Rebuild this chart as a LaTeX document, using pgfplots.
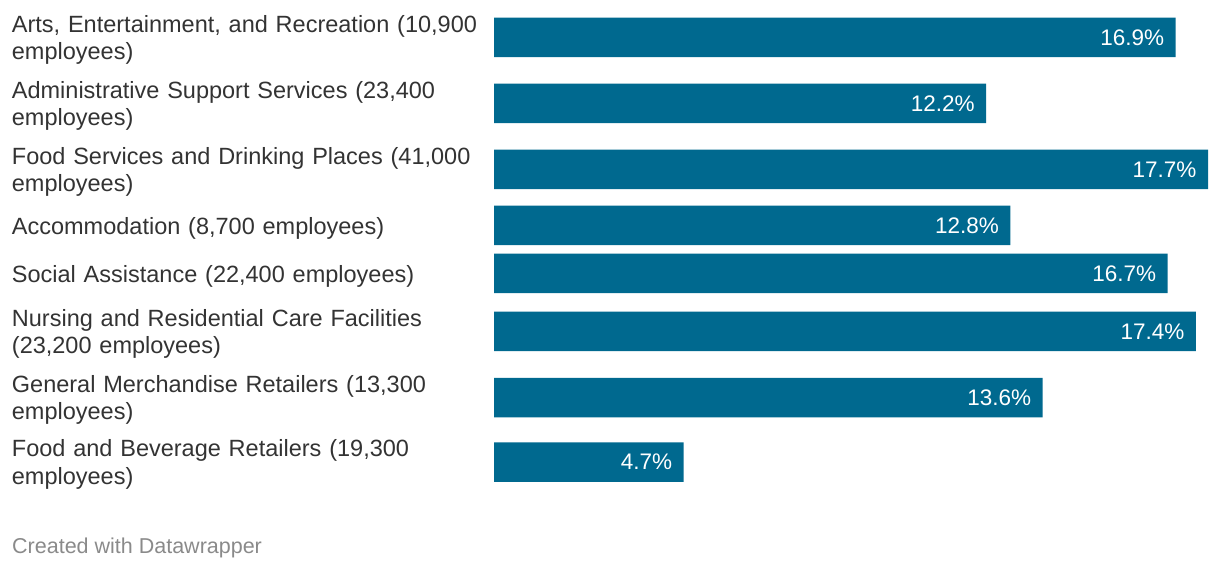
\documentclass[border=0pt]{standalone}
\usepackage{pgfplots}
\pgfplotsset{compat=1.18}
\usepackage{fontspec}
\setmainfont{Liberation Sans}
\definecolor{barblue}{HTML}{00698F}
\definecolor{labeltext}{HTML}{333333}
\definecolor{footgrey}{HTML}{8A8A8A}
\begin{document}
\begin{tikzpicture}[x=1pt,y=1pt]
\useasboundingbox (0,0) rectangle (1220,568);
\begin{axis}[
  at={(494pt,0pt)}, anchor=south west,
  scale only axis, width=714pt, height=568pt,
  xmin=0, xmax=17.7, ymin=0, ymax=568,
  xbar, bar width=39.5pt,
  axis line style={draw=none}, tick style={draw=none},
  xtick=\empty,
  ytick={530.5,464.5,398.5,342.5,294.5,236.5,170.5,106},
  yticklabels={
    {Arts, Entertainment, and Recreation (10,900\\employees)},
    {Administrative Support Services (23,400\\employees)},
    {Food Services and Drinking Places (41,000\\employees)},
    {Accommodation (8,700 employees)},
    {Social Assistance (22,400 employees)},
    {Nursing and Residential Care Facilities\\(23,200 employees)},
    {General Merchandise Retailers (13,300\\employees)},
    {Food and Beverage Retailers (19,300\\employees)}},
  yticklabel style={anchor=west, xshift=-478pt, yshift=-2.5pt, inner sep=0pt, text width=476pt, align=left,
    font=\fontsize{23.5}{27.5}\selectfont, text=labeltext},
  point meta=x,
  nodes near coords={\pgfmathprintnumber[fixed,fixed zerofill,precision=1,assume math mode=true]{\pgfplotspointmeta}\%},
  every node near coord/.append style={anchor=east, xshift=-8pt, text=white, font=\fontsize{22.5}{25}\selectfont},
  clip=false,
]
\addplot[fill=barblue, draw=none] coordinates {
  (16.9,530.5) (12.2,464.5) (17.7,398.5) (12.8,342.5) (16.7,294.5) (17.4,236.5) (13.6,170.5) (4.7,106)
};
\end{axis}
\node[anchor=base west, inner sep=0pt, text=footgrey, font=\fontsize{21.5}{24}\selectfont] at (12,15) {Created with Datawrapper};
\end{tikzpicture}
\end{document}
